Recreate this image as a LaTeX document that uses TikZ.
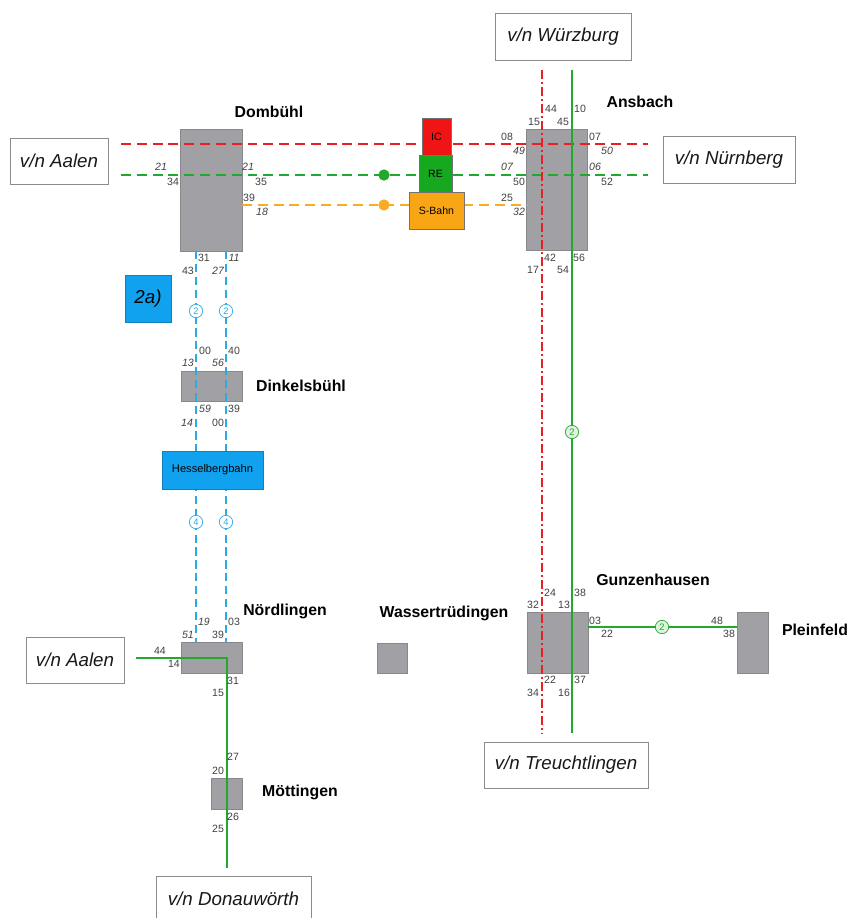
\documentclass[tikz,border=0pt]{standalone}
\usepackage{fontspec}
\setmainfont{Liberation Sans}
\usepackage{tikz}
\usetikzlibrary{positioning}
\definecolor{linered}{RGB}{232,32,36}
\definecolor{linegreen}{RGB}{34,168,44}
\definecolor{lineorange}{RGB}{248,172,36}
\definecolor{lineblue}{RGB}{44,170,228}
\definecolor{boxblue}{RGB}{16,162,238}
\definecolor{boxred}{RGB}{240,20,20}
\definecolor{boxgreen}{RGB}{22,168,30}
\definecolor{boxorange}{RGB}{248,166,22}
\definecolor{stationgray}{RGB}{160,160,165}
\definecolor{numgray}{RGB}{64,64,64}

\begin{document}
\begin{tikzpicture}[x=0.03cm, y=-0.03cm,
    station/.style={rectangle, fill=stationgray, draw=stationgray!85!black, line width=0.2pt, inner sep=0pt},
    terminal/.style={rectangle, draw=black!45, fill=white, line width=0.6pt, inner sep=0pt, text=black!90, font=\fontsize{16}{18}\selectfont\itshape},
    traintype/.style={rectangle, draw=black!55, line width=0.4pt, inner sep=0pt, font=\fontsize{9}{10}\selectfont},
    stname/.style={inner sep=0pt, font=\fontsize{13.5}{15}\selectfont\bfseries},
    num/.style={inner sep=0pt, text=numgray, font=\fontsize{9}{10}\selectfont},
    numit/.style={num, font=\fontsize{9}{10}\selectfont\itshape},
    freq/.style={circle, draw, fill=white, inner sep=0pt, minimum size=0.4cm, line width=0.6pt, font=\fontsize{8}{8}\selectfont},
    redline/.style={linered, line width=2.5pt, dash pattern=on 8.5pt off 5pt},
    greenline/.style={linegreen, line width=2.5pt, dash pattern=on 8.5pt off 5pt},
    orangeline/.style={lineorange, line width=2.5pt, dash pattern=on 8.5pt off 5pt},
    blueline/.style={lineblue, line width=2.3pt, dash pattern=on 7pt off 4pt},
    reddashdot/.style={linered, line width=2.5pt, dash pattern=on 8pt off 2.5pt on 1.5pt off 2.5pt},
    solidgreen/.style={linegreen, line width=2.4pt}
  ]
    \useasboundingbox (0,0) rectangle (849,918);

    % stations
    \node[station, minimum width=1.86cm, minimum height=3.66cm] (domb) at (211,190) {};
    \node[station, minimum width=1.83cm, minimum height=3.63cm] (ansb) at (556.5,189.5) {};
    \node[station, minimum width=1.83cm, minimum height=0.9cm] (dink) at (211.5,386) {};
    \node[station, minimum width=1.83cm, minimum height=0.93cm] (noer) at (211.5,657.5) {};
    \node[station, minimum width=0.93cm, minimum height=0.93cm] (moet) at (226.5,793.5) {};
    \node[station, minimum width=1.83cm, minimum height=1.83cm] (gunz) at (557.5,642.5) {};
    \node[station, minimum width=0.93cm, minimum height=1.83cm] (plei) at (752.5,642.5) {};
    \node[station, minimum width=0.9cm, minimum height=0.9cm] (wass) at (392,658) {};

    \node[stname] (dombname) at (269,112) {Dombühl};
    \node[stname] (ansbname) at (640,102) {Ansbach};
    \node[stname] (dinkname) at (301,386) {Dinkelsbühl};
    \node[stname] (noername) at (285,611) {Nördlingen};
    \node[stname] (moetname) at (300,792) {Möttingen};
    \node[stname] (gunzname) at (653,580) {Gunzenhausen};
    \node[stname] (wassname) at (444,613) {Wassertrüdingen};
    \node[stname] (pleiname) at (815,630) {Pleinfeld};

    % line ends
    \coordinate (redW) at (121,144);
    \coordinate (redE) at (648,144);
    \coordinate (grnW) at (121,175);
    \coordinate (grnE) at (648,175);
    \coordinate (orW) at (242,205);
    \coordinate (orE) at (527,205);
    \coordinate (redN) at (542,70);
    \coordinate (redS) at (542,733);
    \coordinate (grnN) at (572,70);
    \coordinate (grnS) at (572,733);
    \coordinate (blueAN) at (196,251);
    \coordinate (blueAS) at (196,642);
    \coordinate (blueBN) at (226,251);
    \coordinate (blueBS) at (226,642);
    \coordinate (aalW) at (136,658);
    \coordinate (noerK) at (227,658);
    \coordinate (donN) at (227,868);
    \coordinate (gunzE) at (588,627);
    \coordinate (pleiW) at (737,627);

    \draw[redline] (redW) -- (redE);
    \draw[greenline] (grnW) -- (grnE);
    \draw[orangeline] (orW) -- (orE);
    \draw[blueline] (blueAN) -- (blueAS);
    \draw[blueline] (blueBN) -- (blueBS);
    \draw[reddashdot] (redN) -- (redS);
    \draw[solidgreen] (grnN) -- (grnS);
    \draw[solidgreen] (aalW) -- (noerK) -- (donN);
    \draw[solidgreen] (gunzE) -- (pleiW);

    % train types
    \node[traintype, fill=boxred, minimum width=0.87cm, minimum height=1.11cm] (ic) at (436.5,136.5) {IC};
    \node[traintype, fill=boxgreen, minimum width=0.99cm, minimum height=1.11cm] (re) at (435.5,173.5) {RE};
    \node[traintype, fill=boxorange, minimum width=1.65cm, minimum height=1.11cm] (sbahn) at (436.5,210.5) {S-Bahn};
    \node[circle, fill=linegreen, minimum size=0.34cm, inner sep=0pt] (redot) at (384,175) {};
    \node[circle, fill=lineorange, minimum size=0.34cm, inner sep=0pt] (sdot) at (384,205) {};

    \node[rectangle, fill=boxblue, draw=boxblue!80!black, line width=0.4pt, minimum width=1.38cm, minimum height=1.41cm, inner sep=0pt, font=\fontsize{16}{18}\selectfont\itshape] (twoa) at (148,298.5) {2a)};
    \node[rectangle, fill=boxblue, draw=boxblue!80!black, line width=0.4pt, minimum width=3.03cm, minimum height=1.14cm, inner sep=0pt, font=\fontsize{9.5}{10}\selectfont] (hessel) at (212.5,470) {Hesselbergbahn};

    % frequencies
    \node[freq, draw=lineblue, text=lineblue] (fa2) at (196,311) {2};
    \node[freq, draw=lineblue, text=lineblue] (fb2) at (226,311) {2};
    \node[freq, draw=lineblue, text=lineblue] (fa4) at (196,522) {4};
    \node[freq, draw=lineblue, text=lineblue] (fb4) at (226,522) {4};
    \node[freq, draw=linegreen, fill=linegreen!15, text=linegreen] (fg1) at (572,432) {2};
    \node[freq, draw=linegreen, fill=linegreen!15, text=linegreen] (fg2) at (662,627) {2};

    % terminals
    \node[terminal, minimum width=2.94cm, minimum height=1.38cm] (aalen) at (59,161) {v/n Aalen};
    \node[terminal, minimum width=4.08cm, minimum height=1.41cm] (wuerz) at (563,36.5) {v/n Würzburg};
    \node[terminal, minimum width=3.96cm, minimum height=1.41cm] (nuern) at (729,159.5) {v/n Nürnberg};
    \node[terminal, minimum width=2.94cm, minimum height=1.38cm] (aalen2) at (75,660) {v/n Aalen};
    \node[terminal, minimum width=4.92cm, minimum height=1.38cm] (treu) at (566,765) {v/n Treuchtlingen};
    \node[terminal, minimum width=4.65cm, minimum height=1.38cm] (donau) at (233.5,899) {v/n Donauwörth};

    % times Dombuehl
    \node[numit] (d1) at (161,167) {21};
    \node[num] (d2) at (173,182) {34};
    \node[numit] (d3) at (248,167) {21};
    \node[num] (d4) at (261,182) {35};
    \node[num] (d5) at (249,198) {39};
    \node[numit] (d6) at (262,212) {18};
    \node[num] (d7) at (204,258) {31};
    \node[numit] (d8) at (234,258) {11};
    \node[num] (d9) at (188,271) {43};
    \node[numit] (d10) at (218,271) {27};

    % times Ansbach
    \node[num] (a1) at (551,109) {44};
    \node[num] (a2) at (580,109) {10};
    \node[num] (a3) at (534,122) {15};
    \node[num] (a4) at (563,122) {45};
    \node[num] (a5) at (507,137) {08};
    \node[numit] (a6) at (519,151) {49};
    \node[num] (a7) at (595,137) {07};
    \node[numit] (a8) at (607,151) {50};
    \node[numit] (a9) at (507,167) {07};
    \node[num] (a10) at (519,182) {50};
    \node[numit] (a11) at (595,167) {06};
    \node[num] (a12) at (607,182) {52};
    \node[num] (a13) at (507,198) {25};
    \node[numit] (a14) at (519,212) {32};
    \node[num] (a15) at (550,258) {42};
    \node[num] (a16) at (579,258) {56};
    \node[num] (a17) at (533,270) {17};
    \node[num] (a18) at (563,270) {54};

    % times Dinkelsbuehl
    \node[num] (k1) at (205,351) {00};
    \node[num] (k2) at (234,351) {40};
    \node[numit] (k3) at (188,363) {13};
    \node[numit] (k4) at (218,363) {56};
    \node[numit] (k5) at (205,409) {59};
    \node[num] (k6) at (234,409) {39};
    \node[numit] (k7) at (187,423) {14};
    \node[num] (k8) at (218,423) {00};

    % times Noerdlingen / Moettingen
    \node[numit] (n1) at (204,622) {19};
    \node[num] (n2) at (234,622) {03};
    \node[numit] (n3) at (188,635) {51};
    \node[num] (n4) at (218,635) {39};
    \node[num] (n5) at (160,651) {44};
    \node[num] (n6) at (174,664) {14};
    \node[num] (n7) at (233,681) {31};
    \node[num] (n8) at (218,693) {15};
    \node[num] (m1) at (233,757) {27};
    \node[num] (m2) at (218,771) {20};
    \node[num] (m3) at (233,817) {26};
    \node[num] (m4) at (218,829) {25};

    % times Gunzenhausen / Pleinfeld
    \node[num] (g1) at (550,593) {24};
    \node[num] (g2) at (580,593) {38};
    \node[num] (g3) at (533,605) {32};
    \node[num] (g4) at (564,605) {13};
    \node[num] (g5) at (595,621) {03};
    \node[num] (g6) at (607,634) {22};
    \node[num] (g7) at (717,621) {48};
    \node[num] (g8) at (729,634) {38};
    \node[num] (g9) at (550,680) {22};
    \node[num] (g10) at (580,680) {37};
    \node[num] (g11) at (533,693) {34};
    \node[num] (g12) at (564,693) {16};
  \end{tikzpicture}
\end{document}
